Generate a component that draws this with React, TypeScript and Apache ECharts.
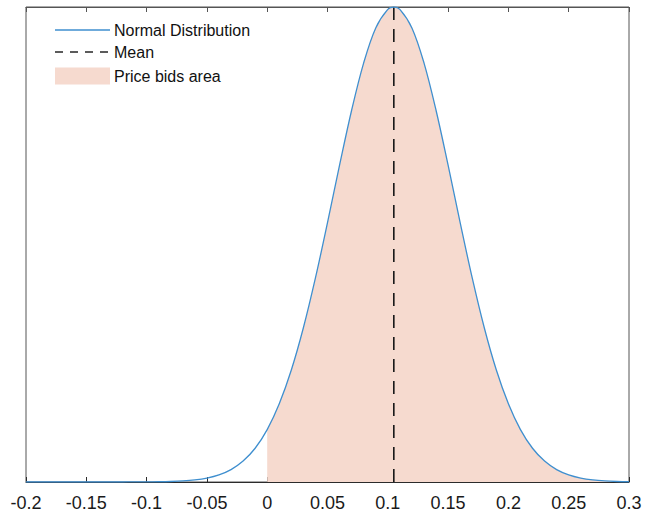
import React, { useEffect, useRef } from "react";
import * as echarts from "echarts";

// x positions where the curve was read
const xValues = [
  -0.2, -0.19, -0.18, -0.17, -0.16, -0.15, -0.14, -0.13, -0.12, -0.11,
  -0.1, -0.09, -0.08, -0.07, -0.06, -0.05, -0.04, -0.03, -0.02, -0.01,
  0, 0.01, 0.02, 0.03, 0.04, 0.05, 0.06, 0.07, 0.08, 0.09,
  0.1, 0.105, 0.11, 0.12, 0.13, 0.14, 0.15, 0.16, 0.17, 0.18,
  0.19, 0.2, 0.21, 0.22, 0.23, 0.24, 0.25, 0.26, 0.27, 0.28,
  0.29, 0.3,
];
// density values
const densityValues = [
  0, 0, 0, 0, 0.00001, 0.00002, 0.00005, 0.0001, 0.0003, 0.0008,
  0.0018, 0.004, 0.0085, 0.0175, 0.0345, 0.0654, 0.119, 0.208, 0.351, 0.567,
  0.88, 1.313, 1.881, 2.591, 3.428, 4.357, 5.322, 6.245, 7.041, 7.628,
  7.939, 7.979, 7.939, 7.628, 7.041, 6.245, 5.322, 4.357, 3.428, 2.591,
  1.881, 1.313, 0.88, 0.567, 0.351, 0.208, 0.119, 0.0654, 0.0345, 0.0175,
  0.0085, 0.004,
];
const meanValue = [0.105];
const bidStart = [0];
const xRange = [-0.2, 0.3];
const xStep = [0.05];
const legendLabels = ["Normal Distribution", "Mean", "Price bids area"];

const FONT = "'Liberation Sans', Arial, Helvetica, sans-serif";
const CURVE = "#3f8fcf";
const FILL = "#f6dacf";
const AXIS = "#2b2b2b";

export default function App() {
  const ref = useRef<HTMLDivElement>(null);
  useEffect(() => {
    const chart = echarts.init(ref.current!, null, { renderer: "svg" });
    const curve = xValues.map((x, i) => [x, densityValues[i]]);
    const area = curve.filter((p) => p[0] >= bidStart[0]);
    const yMax = Math.max(...densityValues);
    const meanLine = [
      [meanValue[0], 0],
      [meanValue[0], yMax],
    ];

    const legendX = 55;
    const legendW = 55;
    const rowY = [30, 52, 76];

    chart.setOption({
      animation: false,
      backgroundColor: "#ffffff",
      grid: {
        left: 26,
        right: 18,
        top: 7,
        bottom: 30,
        show: true,
        borderColor: "#555",
        borderWidth: 1,
        backgroundColor: "transparent",
      },
      xAxis: [
        {
          type: "value",
          position: "bottom",
          min: xRange[0],
          max: xRange[1],
          interval: xStep[0],
          axisLine: { show: true, lineStyle: { color: AXIS, width: 1 } },
          axisTick: { show: true, inside: true, length: 5, lineStyle: { color: AXIS } },
          splitLine: { show: false },
          axisLabel: {
            show: true,
            margin: 12,
            fontSize: 18,
            fontFamily: FONT,
            color: "#1a1a1a",
            showMinLabel: true,
            showMaxLabel: true,
            formatter: (v: number) => String(parseFloat(v.toFixed(2))),
          },
        },
        {
          type: "value",
          position: "top",
          min: xRange[0],
          max: xRange[1],
          interval: xStep[0],
          axisLine: { show: true, lineStyle: { color: "#555", width: 1 } },
          axisTick: { show: true, inside: true, length: 5, lineStyle: { color: "#555" } },
          splitLine: { show: false },
          axisLabel: { show: false },
        },
      ],
      yAxis: {
        type: "value",
        min: 0,
        max: yMax,
        show: false,
        splitLine: { show: false },
      },
      series: [
        {
          name: legendLabels[2],
          type: "line",
          data: area,
          smooth: 0.35,
          symbol: "none",
          lineStyle: { width: 0, color: FILL },
          areaStyle: { color: FILL, opacity: 1 },
          z: 1,
          silent: true,
        },
        {
          name: legendLabels[1],
          type: "line",
          data: meanLine,
          symbol: "none",
          lineStyle: { color: "#1a1a1a", type: [13, 9], width: 1.6 },
          z: 2,
          silent: true,
        },
        {
          name: legendLabels[0],
          type: "line",
          data: curve,
          smooth: 0.35,
          symbol: "none",
          lineStyle: { width: 1.3, color: CURVE },
          z: 3,
          silent: true,
        },
      ],
      graphic: [
        {
          type: "line",
          shape: { x1: legendX, y1: rowY[0], x2: legendX + legendW, y2: rowY[0] },
          style: { stroke: CURVE, lineWidth: 1.5 },
        },
        {
          type: "line",
          shape: { x1: legendX, y1: rowY[1], x2: legendX + legendW, y2: rowY[1] },
          style: { stroke: "#262626", lineWidth: 1.6, lineDash: [8, 7] },
        },
        {
          type: "rect",
          shape: { x: legendX, y: rowY[2] - 8.5, width: legendW, height: 17 },
          style: { fill: FILL },
        },
        ...legendLabels.map((t, i) => ({
          type: "text",
          x: 114,
          y: rowY[i],
          style: {
            text: t,
            fill: "#111",
            font: `16px ${FONT}`,
            textVerticalAlign: "middle",
            verticalAlign: "middle",
          },
        })),
      ],
    });
    return () => chart.dispose();
  }, []);
  return (
    <div
      ref={ref}
      style={{ position: "absolute", left: 0, top: 0, width: 647, height: 512, background: "#fff" }}
    />
  );
}
